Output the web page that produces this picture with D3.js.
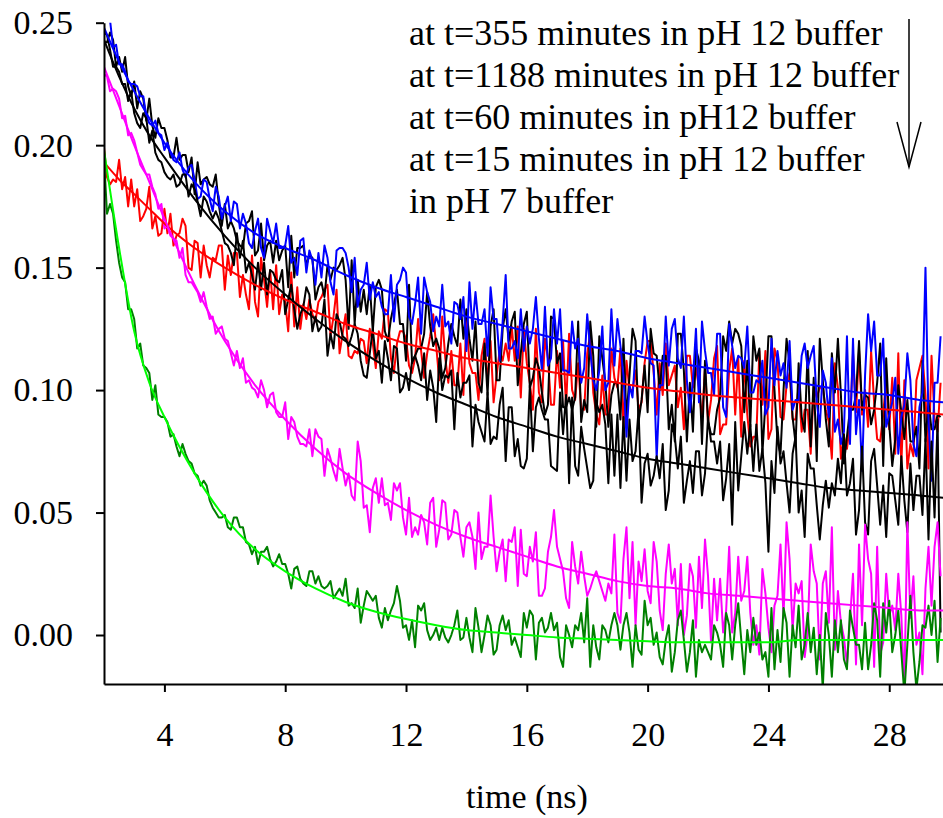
<!DOCTYPE html>
<html>
<head>
<meta charset="UTF-8" />
<title>fluorescence decay</title>
<script src="https://d3js.org/d3.v7.min.js"></script>
<style>
  body { margin: 0; background: #fff; }
</style>
</head>
<body>
<svg id="chart" width="943" height="818"></svg>
<script>
var serif = "'Liberation Serif', 'Times New Roman', serif"

// sampling grid of the decay traces (ns)
var tStart = 2.0, tStep = 0.1

// time points of the fitted curves (ns)
var fitTimes = [2,2.5,3,3.5,4,5,6,7,8,9,10,11,12,13,14,15,16,17,18,19,20,21,22,23,24,25,26,27,28,29,29.8]

// at t=355 minutes in pH 12 buffer
var blueData = [
.253,.252,.251,.240,.241,.233,.233,.230,.226,.225,
.225,.224,.220,.220,.212,.209,.208,.210,.205,.204,
.198,.201,.197,.194,.193,.197,.190,.187,.191,.192,
.186,.178,.179,.186,.185,.178,.173,.183,.179,.170,
.175,.179,.169,.177,.176,.166,.172,.168,.160,.158,
.165,.170,.158,.154,.170,.165,.160,.168,.158,.158,
.159,.167,.152,.154,.147,.161,.162,.148,.157,.153,
.143,.156,.146,.159,.154,.144,.139,.157,.158,.158,
.156,.150,.140,.154,.134,.141,.143,.152,.137,.144,
.138,.140,.134,.131,.131,.147,.128,.143,.145,.150,
.148,.130,.127,.135,.146,.123,.146,.140,.136,.124,
.130,.126,.143,.126,.128,.119,.136,.135,.129,.138,
.116,.144,.125,.140,.127,.127,.133,.114,.142,.129,
.129,.112,.128,.147,.117,.117,.120,.113,.133,.116,
.126,.119,.125,.138,.121,.108,.134,.110,.113,.133,
.119,.133,.108,.108,.107,.128,.117,.121,.103,.109,
.131,.116,.104,.100,.108,.126,.100,.103,.133,.110,
.129,.118,.106,.081,.102,.097,.116,.116,.115,.130,
.119,.111,.110,.072,.102,.102,.130,.110,.125,.129,
.113,.109,.130,.104,.091,.104,.125,.095,.128,.116,
.107,.107,.098,.123,.123,.093,.089,.127,.118,.109,
.114,.113,.109,.126,.099,.099,.104,.103,.112,.090,
.093,.121,.102,.116,.106,.111,.101,.120,.092,.096,
.096,.114,.119,.109,.114,.118,.095,.085,.108,.103,
.089,.113,.083,.088,.078,.083,.122,.078,.121,.082,
.096,.067,.106,.131,.116,.128,.106,.106,.121,.085,
.090,.095,.105,.074,.089,.094,.115,.104,.078,.073,
.093,.099,.150,.088,.063,.103,.103,.122]
var blueFit = [.248,.234,.222,.211,.201,.185,.173,.164,.158,.153,.147,.142,.138,.134,.130,.127,.124,.121,.118,.116,.113,.111,.109,.107,.105,.103,.101,.099,.098,.096,.095]

// at t=1188 minutes in pH 12 buffer (two black traces, one fit)
var blackDataA = [
.242,.242,.246,.243,.232,.236,.230,.236,.224,.220,
.226,.215,.222,.219,.210,.219,.208,.203,.211,.207,
.207,.202,.195,.195,.203,.194,.196,.196,.189,.195,
.180,.193,.184,.186,.187,.184,.183,.188,.176,.167,
.176,.166,.169,.166,.161,.159,.158,.168,.169,.173,
.155,.157,.168,.153,.159,.161,.152,.161,.153,.157,
.159,.142,.163,.146,.158,.158,.159,.151,.155,.154,
.137,.142,.144,.138,.151,.145,.150,.149,.151,.154,
.145,.125,.153,.127,.145,.132,.141,.131,.143,.124,
.142,.145,.141,.124,.120,.129,.135,.141,.127,.127,
.112,.143,.111,.114,.117,.117,.123,.140,.126,.118,
.121,.117,.105,.109,.119,.127,.122,.118,.137,.121,
.133,.121,.112,.128,.103,.099,.119,.098,.126,.133,
.104,.104,.125,.133,.120,.128,.132,.102,.115,.127,
.132,.101,.105,.113,.109,.099,.090,.094,.130,.129,
.111,.115,.093,.093,.097,.092,.097,.128,.087,.096,
.091,.128,.114,.085,.122,.113,.103,.085,.098,.103,
.103,.088,.121,.088,.106,.125,.120,.087,.096,.110,
.091,.125,.115,.114,.100,.114,.114,.084,.094,.079,
.123,.123,.108,.079,.103,.083,.117,.112,.078,.112,
.087,.082,.082,.092,.097,.122,.116,.128,.119,.125,
.123,.118,.091,.112,.085,.122,.112,.117,.074,.095,
.122,.122,.100,.079,.074,.100,.121,.111,.089,.078,
.111,.089,.083,.116,.077,.105,.071,.121,.104,.088,
.077,.115,.099,.121,.098,.070,.081,.092,.092,.098,
.120,.092,.098,.097,.086,.092,.103,.119,.069,.113,
.086,.069,.080,.102,.091,.080,.096,.079,.079,.085,
.068,.112,.079,.095,.084,.084,.090,.089]
var blackDataB = [
.246,.245,.239,.232,.232,.230,.225,.225,.218,.222,
.213,.209,.207,.213,.211,.201,.206,.197,.194,.193,
.189,.187,.186,.188,.183,.184,.188,.188,.179,.184,
.182,.177,.171,.179,.177,.173,.170,.173,.170,.165,
.160,.159,.156,.151,.164,.154,.161,.148,.152,.147,
.141,.152,.141,.152,.139,.149,.148,.145,.144,.149,
.131,.137,.143,.133,.125,.131,.134,.142,.139,.124,
.130,.124,.126,.137,.114,.123,.117,.131,.128,.122,
.121,.118,.122,.127,.123,.112,.106,.105,.115,.125,
.113,.116,.103,.120,.113,.104,.118,.117,.099,.101,
.107,.100,.112,.114,.110,.104,.115,.096,.108,.101,
.087,.113,.100,.106,.105,.108,.084,.107,.097,.103,
.103,.106,.077,.094,.087,.083,.079,.099,.078,.081,
.080,.094,.101,.071,.093,.093,.073,.080,.069,.068,
.072,.102,.075,.093,.097,.092,.088,.088,.069,.068,
.067,.099,.082,.098,.062,.097,.069,.065,.085,.076,
.068,.060,.063,.095,.091,.094,.086,.062,.090,.065,
.090,.060,.089,.063,.088,.071,.075,.092,.054,.070,
.074,.061,.065,.073,.064,.078,.051,.059,.086,.081,
.068,.081,.054,.063,.071,.058,.075,.075,.057,.066,
.089,.079,.079,.070,.079,.055,.064,.078,.045,.087,
.059,.073,.087,.074,.086,.067,.086,.067,.076,.062,
.034,.071,.058,.085,.070,.075,.062,.050,.074,.081,
.050,.059,.040,.074,.068,.068,.053,.039,.053,.063,
.052,.062,.057,.072,.062,.082,.057,.062,.072,.041,
.051,.077,.046,.041,.071,.076,.061,.045,.061,.040,
.066,.065,.055,.045,.073,.055,.042,.070,.051,.065,
.065,.049,.080,.039,.079,.048,.088,.001]
var blackFit = [.243,.228,.215,.204,.195,.178,.163,.150,.139,.129,.120,.112,.105,.099,.094,.089,.085,.081,.078,.075,.072,.070,.068,.066,.064,.062,.060,.059,.058,.057,.056]

// at t=60 minutes in pH12 buffer
var redData = [
.199,.187,.184,.186,.185,.194,.182,.187,.175,.186,
.175,.182,.169,.171,.174,.183,.166,.171,.163,.164,
.174,.164,.172,.159,.163,.164,.170,.167,.150,.149,
.161,.160,.146,.159,.151,.146,.154,.153,.159,.159,
.141,.155,.147,.156,.156,.138,.147,.139,.133,.155,
.136,.130,.154,.145,.134,.149,.133,.151,.131,.139,
.136,.124,.148,.126,.142,.125,.135,.129,.137,.131,
.128,.136,.138,.141,.143,.122,.130,.141,.115,.123,
.131,.114,.113,.116,.115,.121,.120,.111,.125,.119,
.109,.124,.121,.133,.132,.113,.107,.119,.124,.124,
.121,.110,.107,.113,.129,.116,.105,.115,.122,.131,
.118,.104,.130,.113,.103,.116,.102,.102,.119,.098,
.129,.111,.107,.107,.096,.114,.121,.103,.120,.095,
.106,.116,.112,.119,.112,.126,.112,.126,.097,.125,
.111,.103,.092,.125,.099,.095,.121,.113,.094,.094,
.116,.101,.120,.093,.123,.100,.096,.111,.092,.092,
.115,.123,.099,.090,.086,.106,.090,.090,.117,.105,
.101,.117,.085,.112,.100,.100,.108,.092,.095,.111,
.120,.120,.107,.090,.111,.098,.119,.102,.106,.110,
.093,.101,.084,.114,.114,.101,.109,.101,.088,.109,
.087,.096,.113,.118,.082,.086,.086,.108,.117,.090,
.113,.081,.112,.090,.077,.081,.081,.116,.094,.116,
.080,.084,.117,.112,.089,.088,.102,.107,.088,.088,
.102,.083,.092,.092,.074,.101,.097,.101,.101,.092,
.087,.072,.111,.101,.072,.081,.076,.086,.115,.091,
.116,.090,.100,.085,.116,.095,.080,.079,.090,.105,
.084,.105,.074,.115,.069,.104,.068,.078,.073,.104,
.109,.114,.098,.068,.114,.088,.083,.103]
var redFit = [.193,.186,.180,.174,.168,.158,.150,.143,.137,.132,.127,.123,.119,.116,.113,.111,.109,.107,.105,.103,.101,.0995,.098,.097,.096,.095,.094,.093,.092,.091,.090]

// at t=15 minutes in pH 12 buffer
var magentaData = [
.229,.228,.222,.223,.222,.219,.211,.212,.204,.205,
.202,.197,.192,.190,.188,.188,.183,.180,.174,.176,
.166,.167,.163,.162,.161,.154,.158,.147,.144,.144,
.142,.140,.136,.140,.134,.129,.130,.123,.125,.126,
.121,.120,.115,.110,.116,.109,.113,.103,.104,.101,
.100,.097,.104,.100,.093,.098,.099,.091,.089,.089,
.095,.080,.089,.087,.081,.078,.078,.077,.084,.073,
.084,.081,.080,.065,.076,.072,.067,.063,.076,.068,
.061,.066,.057,.055,.079,.071,.052,.053,.042,.060,
.064,.054,.064,.053,.054,.047,.062,.059,.062,.048,
.041,.056,.040,.044,.041,.049,.046,.037,.054,.056,
.036,.043,.055,.054,.039,.041,.051,.050,.040,.032,
.044,.046,.040,.027,.050,.031,.036,.036,.057,.040,
.026,.034,.039,.022,.039,.038,.044,.020,.043,.025,
.024,.036,.030,.042,.016,.016,.019,.034,.040,.051,
.036,.031,.026,.015,.011,.038,.028,.021,.034,.024,
.016,.019,.023,.026,.022,.018,.014,.021,.017,.041,
.009,.005,.031,.044,.015,.038,.004,.030,.022,.035,
.018,.013,.038,.030,.010,.002,.025,.037,.021,.027,
.004,.029,.000,.008,.029,.024,.003,.032,.011,.039,
.024,-.003,.023,.006,.023,.001,.010,.036,.001,.009,
.032,.014,.018,.032,.009,-.004,.004,-.008,.027,.017,
.003,-.007,.012,.016,.037,.007,.046,.031,.002,.021,
.017,.022,-.009,.001,.037,.026,.021,-.010,.021,.026,
.005,.044,-.006,.018,.005,-.001,-.012,.006,.025,-.012,
.037,.004,.045,.031,.025,-.013,.036,-.008,-.003,.025,
.008,.012,.002,.025,.008,-.022,.046,.007,.024,-.004,
.001,-.016,.019,.036,.012,.036,.046,.024]
var magentaFit = [.232,.216,.200,.185,.170,.143,.120,.102,.088,.076,.066,.058,.051,.045,.040,.036,.032,.028,.025,.022,.020,.019,.017,.016,.015,.014,.013,.012,.011,.010,.010]

// in pH 7 buffer
var greenData = [
.195,.172,.176,.172,.161,.152,.146,.144,.133,.133,
.129,.117,.119,.110,.109,.107,.096,.102,.090,.089,
.089,.087,.081,.082,.077,.073,.078,.074,.071,.070,
.066,.065,.061,.063,.061,.055,.052,.050,.048,.048,
.049,.044,.043,.048,.048,.044,.044,.038,.037,.033,
.036,.029,.034,.034,.036,.031,.028,.030,.033,.029,
.029,.025,.019,.027,.028,.023,.021,.020,.026,.026,
.021,.024,.020,.019,.020,.022,.015,.017,.019,.016,
.023,.012,.013,.011,.019,.005,.012,.018,.016,.014,
.016,.007,.003,.011,.006,.010,.013,.020,.014,.003,
.004,-.002,.006,-.005,.012,.010,.013,.002,-.002,.000,
.003,-.002,.003,-.001,-.003,.000,.004,.010,-.002,-.001,
.007,-.001,-.007,.011,.003,-.007,.000,.008,.004,-.008,
-.006,.004,.008,.002,.006,-.004,-.001,-.005,-.009,.009,
.003,.010,.008,-.010,.005,.007,.001,.003,.009,.002,
.005,-.009,-.013,.004,.000,-.005,.004,.002,.009,-.003,
.015,-.013,.004,-.005,-.010,.004,.002,-.003,.004,.009,
.004,-.006,.004,.009,.001,-.013,.004,-.006,-.008,.014,
.004,.007,-.004,.001,-.009,-.012,-.002,.004,-.015,-.007,
.006,.010,-.002,-.015,-.007,.006,-.017,-.002,-.007,-.004,
-.007,-.010,.004,.001,-.004,-.013,.009,.004,-.010,.004,
.013,-.002,-.016,.002,-.007,.007,-.004,.001,-.010,-.007,
-.017,.011,-.014,.002,-.011,.011,.005,-.017,.004,-.005,
.012,-.010,-.004,.009,-.007,.003,-.016,.000,-.022,.009,
.000,-.017,.006,-.007,.006,-.010,-.014,.010,.003,-.004,
-.004,-.014,.005,-.014,-.004,.013,.006,-.017,.013,.001,
.014,-.007,.000,.010,-.007,-.024,-.004,.016,-.007,-.022,
-.011,.004,.003,.012,.000,.014,-.011,.007]
var greenFit = [.198,.158,.124,.103,.089,.066,.048,.035,.026,.019,.0135,.0095,.0065,.004,.002,.001,.000,-.001,-.0015,-.002,-.0025,-.003,-.003,-.003,-.003,-.002,-.002,-.002,-.002,-.002,-.002]

var legendLines = [
  "at t=355 minutes in pH 12 buffer",
  "at t=1188 minutes in pH 12 buffer",
  "at t=60 minutes in pH12 buffer",
  "at t=15 minutes in pH 12 buffer",
  "in pH 7 buffer"
]
var xTicks = [4, 8, 12, 16, 20, 24, 28]
var yTicks = [0, 0.05, 0.10, 0.15, 0.20, 0.25]

var svg = d3.select("#chart")
var x = d3.scaleLinear().domain([2, 29.8]).range([104, 943.6])
var y = d3.scaleLinear().domain([-0.02, 0.25]).range([684, 22.7])

svg.append("clipPath").attr("id", "plotclip")
  .append("rect")
  .attr("x", x(2)).attr("y", y(0.25))
  .attr("width", 943 - x(2)).attr("height", y(-0.02) - y(0.25))

var plot = svg.append("g").attr("clip-path", "url(#plotclip)")

var dataLine = d3.line()
  .x((d, i) => x(tStart + i * tStep))
  .y(d => y(d))

var fitLine = d3.line()
  .x((d, i) => x(fitTimes[i]))
  .y(d => y(d))
  .curve(d3.curveMonotoneX)

var traces = [
  {vals: redData, color: "#ff0000"},
  {vals: blackDataA, color: "#000000"},
  {vals: blueData, color: "#0000ff"},
  {vals: blackDataB, color: "#000000"},
  {vals: magentaData, color: "#ff00ff"},
  {vals: greenData, color: "#008000"}
]
var fits = [
  {vals: blueFit, color: "#0000ff"},
  {vals: redFit, color: "#ff0000"},
  {vals: blackFit, color: "#000000"},
  {vals: magentaFit, color: "#ff00ff"},
  {vals: greenFit, color: "#00ff00"}
]

plot.selectAll("path.trace")
  .data(traces)
  .enter()
  .append("path")
  .attr("class", "trace")
  .attr("fill", "none")
  .attr("stroke", d => d.color)
  .attr("stroke-width", 2)
  .attr("stroke-linejoin", "round")
  .attr("d", d => dataLine(d.vals))

plot.selectAll("path.fit")
  .data(fits)
  .enter()
  .append("path")
  .attr("class", "fit")
  .attr("fill", "none")
  .attr("stroke", d => d.color)
  .attr("stroke-width", 2)
  .attr("d", d => fitLine(d.vals))

// axes
var yAxis = d3.axisLeft(y).tickValues(yTicks).tickFormat(d3.format(".2f"))
  .tickSize(8).tickSizeOuter(0).tickPadding(23)
var xAxis = d3.axisBottom(x).tickValues(xTicks).tickFormat(d3.format("d"))
  .tickSize(8).tickSizeOuter(0).tickPadding(30)

svg.append("g").attr("transform", "translate(104,0)").call(yAxis)
svg.append("g").attr("transform", "translate(0,684)").call(xAxis)

svg.selectAll(".domain").attr("stroke-width", 2)
svg.selectAll(".tick line").attr("stroke-width", 2)
svg.selectAll(".tick text")
  .style("font-family", serif)
  .style("font-size", "34px")

svg.append("text")
  .attr("x", 527).attr("y", 808)
  .attr("text-anchor", "middle")
  .style("font-family", serif)
  .style("font-size", "34px")
  .text("time (ns)")

// legend text and arrow
svg.selectAll("text.legend")
  .data(legendLines)
  .enter()
  .append("text")
  .attr("class", "legend")
  .attr("x", 409)
  .attr("y", (d, i) => 45 + i * 42)
  .style("font-family", serif)
  .style("font-size", "36px")
  .text(d => d)

svg.append("line")
  .attr("x1", 909).attr("x2", 909).attr("y1", 19).attr("y2", 167)
  .attr("stroke", "#000").attr("stroke-width", 1.5)
svg.append("path")
  .attr("d", "M897,122 L909,167 L921,122")
  .attr("fill", "none").attr("stroke", "#000").attr("stroke-width", 1.5)
</script>
</body>
</html>
